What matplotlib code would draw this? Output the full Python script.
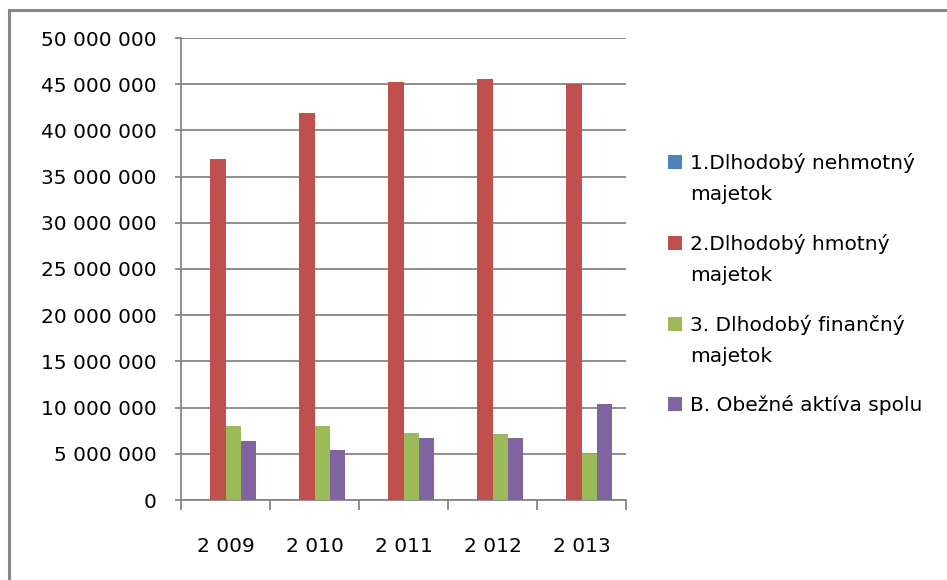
import matplotlib
matplotlib.use("Agg")
import matplotlib.pyplot as plt
import numpy as np
from matplotlib.lines import Line2D
from matplotlib.patches import Rectangle
from matplotlib.ticker import FixedLocator, FuncFormatter

years = ["2 009", "2 010", "2 011", "2 012", "2 013"]
series_names = ["1.Dlhodobý nehmotný\nmajetok",
                "2.Dlhodobý hmotný\nmajetok",
                "3. Dlhodobý finančný\nmajetok",
                "B. Obežné aktíva spolu"]
nehmotny = [0, 0, 0, 0, 0]
hmotny = [36_900_000, 41_900_000, 45_200_000, 45_550_000, 45_000_000]
financny = [8_000_000, 8_000_000, 7_250_000, 7_150_000, 4_950_000]
obezne = [6_400_000, 5_400_000, 6_700_000, 6_700_000, 10_400_000]
colors = ["#4F81BD", "#C0504D", "#9BBB59", "#8064A2"]
yticks = list(range(0, 50_000_001, 5_000_000))

W, H = 947, 580
fig = plt.figure(figsize=(W / 100, H / 100), dpi=100)
plt.rcParams['font.family'] = ['DejaVu Sans']
ax = fig.add_axes([181 / W, 1 - 500 / H, 445 / W, 462 / H])

gray = "#868686"
data = [nehmotny, hmotny, financny, obezne]
x = np.arange(len(years))
bw = 0.174
for i, (vals, c) in enumerate(zip(data, colors)):
    ax.bar(x + (i - 1.5) * bw, vals, width=bw, color=c, zorder=3, linewidth=0)

fs = 14.5
ax.set_xlim(-0.5, len(years) - 0.5)
ax.set_ylim(0, 50_000_000)
ax.set_yticks(yticks)
ax.yaxis.set_major_formatter(FuncFormatter(lambda v, p: f"{int(v):,}".replace(",", " ")))
ax.set_xticks(x)
ax.set_xticklabels(years)
ax.xaxis.set_minor_locator(FixedLocator(np.arange(-0.5, len(years), 1.0)))
ax.tick_params(axis='x', which='major', length=0, pad=26.5, labelsize=fs)
ax.tick_params(axis='x', which='minor', length=7.5, width=1.3, color=gray)
ax.tick_params(axis='y', which='major', length=4.3, width=1.3, color=gray, pad=13, labelsize=fs)
ax.grid(axis='y', color=gray, linewidth=1.3, zorder=0)
for s in ['top', 'right']:
    ax.spines[s].set_visible(False)
for s in ['left', 'bottom']:
    ax.spines[s].set_color(gray)
    ax.spines[s].set_linewidth(1.3)

# legend
leg_y = [155, 236, 317, 397]
line_gap = 31
for name, c, y in zip(series_names, colors, leg_y):
    fig.add_artist(Rectangle((668 / W, 1 - (y + 14) / H), 14 / W, 14 / H,
                             transform=fig.transFigure, color=c, linewidth=0))
    nl = name.count("\n")
    fig.text(690 / W, 1 - (y + 14 + line_gap * nl) / H, name, fontsize=fs,
             va='baseline', ha='left', linespacing=1.83)

# outer border (top and left visible)
fig.add_artist(Line2D([8.5 / W, 8.5 / W], [0, 1 - 9.5 / H], transform=fig.transFigure,
                      color="#878787", linewidth=2.2))
fig.add_artist(Line2D([8.5 / W, 1], [1 - 9.5 / H, 1 - 9.5 / H], transform=fig.transFigure,
                      color="#878787", linewidth=2.2))

fig.savefig("out.png", dpi=100)
